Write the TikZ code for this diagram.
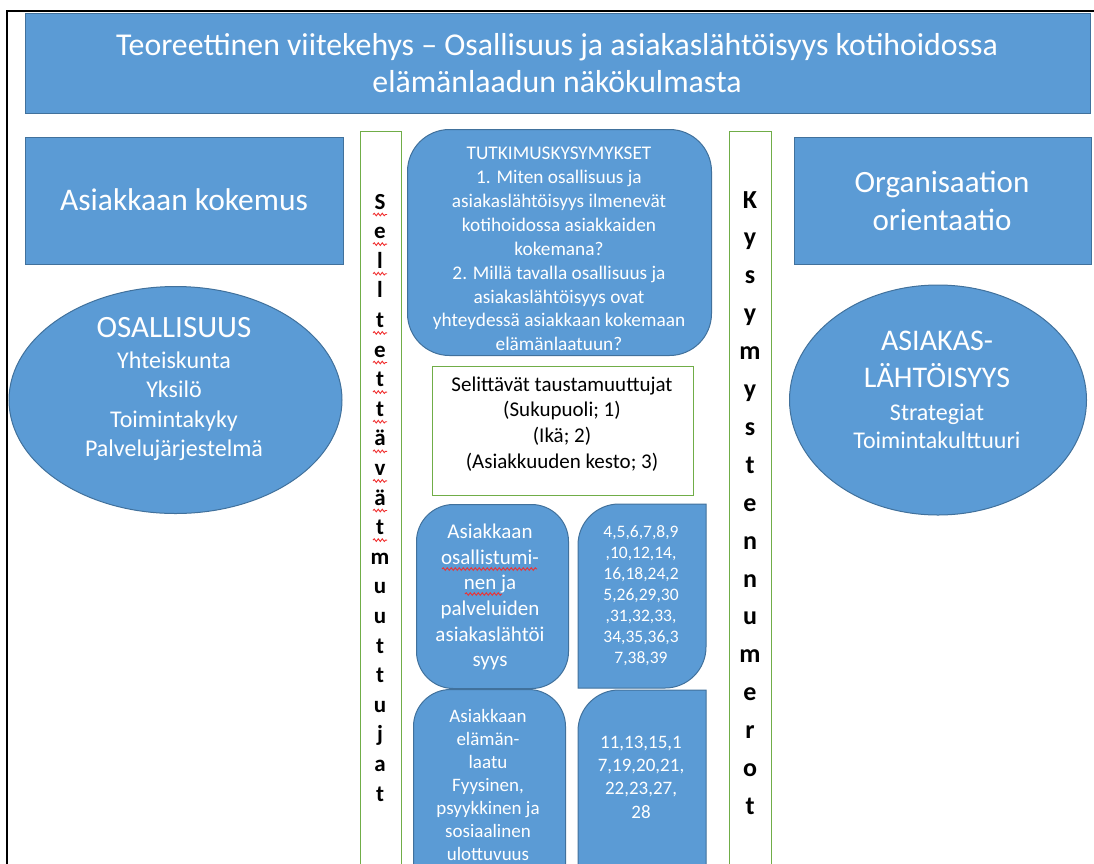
\documentclass[tikz,border=0pt]{standalone}
\usepackage{fontspec}
\setmainfont{Carlito}
\usetikzlibrary{decorations.pathmorphing,shapes.geometric}
\definecolor{bfill}{HTML}{5B9BD5}
\definecolor{bline}{HTML}{41719C}
\definecolor{gline}{HTML}{70AD47}
\definecolor{squig}{HTML}{F03030}
\newcommand{\fs}[2]{\fontsize{#1}{#2}\selectfont}
\begin{document}
\begin{tikzpicture}[x=1pt,y=-1pt,
  bshape/.style={draw=bline,fill=bfill,line width=1pt},
  gshape/.style={draw=gline,line width=1.3pt},
  wtext/.style={text=white,align=center,inner sep=0pt},
  ktext/.style={text=black,align=center,inner sep=0pt},
  lcol/.style={text=black,inner sep=0pt,anchor=base,font=\bfseries\fs{23}{27}},
  rcol/.style={text=black,inner sep=0pt,anchor=base,font=\bfseries\fs{26}{30}},
  wavy/.style={draw=squig,line width=0.9pt,decorate,decoration={snake,segment length=4pt,amplitude=1.3pt}},
  frame/.style={draw=black,line width=2.6pt}]
\useasboundingbox (0,0) rectangle (1094,863);
\clip (0,0) rectangle (1094,863);
% outer frame
\coordinate (fb) at (7,870);
\coordinate (ftl) at (7,11);
\coordinate (fr) at (1100,11);
\draw[frame] (fb) -- (ftl) -- (fr);
% title
\node[bshape,minimum width=1065,minimum height=100,anchor=north west] (titlebox) at (25,13) {};
\node[wtext,font=\fs{31.8}{37}] (title) at (557,63.5) {Teoreettinen viitekehys – Osallisuus ja asiakaslähtöisyys kotihoidossa\\elämänlaadun näkökulmasta};
% left side
\node[bshape,minimum width=318,minimum height=127,anchor=north west] (kokbox) at (25,137) {};
\node[wtext,font=\fs{31.5}{36}] (kok) at (184,200) {Asiakkaan kokemus};
\node[bshape,ellipse,minimum width=333,minimum height=227] (osell) at (175.5,400) {};
\node[wtext,font=\fs{31}{36}] (osal) at (174,328) {OSALLISUUS};
\node[wtext,font=\fs{24}{29.5}] (osalsub) at (174,406) {Yhteiskunta\\Yksilö\\Toimintakyky\\Palvelujärjestelmä};
% right side
\node[bshape,minimum width=297,minimum height=127,anchor=north west] (orgbox) at (794,137) {};
\node[wtext,font=\fs{31}{38}] (org) at (942,201) {Organisaation\\orientaatio};
\node[bshape,ellipse,minimum width=297,minimum height=230] (asell) at (938,400) {};
\node[wtext,font=\fs{30}{37}] (asia) at (937,359) {ASIAKAS-\\LÄHTÖISYYS};
\node[wtext,font=\fs{24}{28}] (asiasub) at (937,426) {Strategiat\\Toimintakulttuuri};
% columns
\node[gshape,minimum width=41,minimum height=760,anchor=north west] (lcolbox) at (360,131) {};
\node[gshape,minimum width=42,minimum height=760,anchor=north west] (rcolbox) at (729,131) {};
\foreach \ch [count=\i from 0] in {S,e,l,l,t,e,t,t,ä,v,ä,t,m,u,u,t,t,u,j,a,t} {
  \node[lcol] (L\i) at (380,209+29.6*\i) {\ch};
}
\foreach \i in {0,1,2,4,5,6,7,8,9,10,11} {
  \draw[wavy] ([xshift=-7pt,yshift=-5.5pt]L\i.base) -- ([xshift=7pt,yshift=-5.5pt]L\i.base);
}
\foreach \ch [count=\i from 0] in {K,y,s,y,m,y,s,t,e,n,n,u,m,e,r,o,t} {
  \node[rcol] (R\i) at (750,208+37.9*\i) {\ch};
}
% research questions
\node[bshape,rounded corners=42,minimum width=304,minimum height=226,anchor=north west] (tutbox) at (407,129) {};
\node[wtext,font=\fs{19.3}{23.9}] (tut) at (559,249) {TUTKIMUSKYSYMYKSET\\1. Miten osallisuus ja\\asiakaslähtöisyys ilmenevät\\kotihoidossa asiakkaiden\\kokemana?\\2. Millä tavalla osallisuus ja\\asiakaslähtöisyys ovat\\yhteydessä asiakkaan kokemaan\\elämänlaatuun?};
% background variables
\node[gshape,minimum width=261,minimum height=129,anchor=north west] (selbox) at (432,366) {};
\node[ktext,font=\fs{21}{25.7}] (sel) at (562,424) {Selittävät taustamuuttujat\\(Sukupuoli; 1)\\(Ikä; 2)\\(Asiakkuuden kesto; 3)};
% participation box
\node[bshape,rounded corners=37,minimum width=152,minimum height=184,anchor=north west] (osbox) at (416,504) {};
\node[wtext,font=\fs{21}{25.6}] (os) at (490,597) {Asiakkaan\\osallistumi-\\nen ja\\palveluiden\\asiakaslähtöi\\syys};
\coordinate (sq1a) at (442,569); \coordinate (sq1b) at (537,569);
\coordinate (sq2a) at (465,594); \coordinate (sq2b) at (502,594);
\draw[wavy] (sq1a) -- (sq1b);
\draw[wavy] (sq2a) -- (sq2b);
% numbers 1
\path[bshape] (578,688) -- (578,545) arc(180:270:41) -- (706,504) -- (706,647) arc(0:90:41) -- cycle;
\node[inner sep=0pt,minimum width=128,minimum height=184,anchor=north west] (num1box) at (578,504) {};
\node[wtext,font=\fs{17.5}{21}] (num1) at (641,596) {4,5,6,7,8,9\\,10,12,14,\\16,18,24,2\\5,26,29,30\\,31,32,33,\\34,35,36,3\\7,38,39};
% quality of life box
\node[bshape,rounded corners=37,minimum width=152,minimum height=230,anchor=north west] (elbox) at (413,689) {};
\node[wtext,font=\fs{19}{23}] (el) at (488,785) {Asiakkaan\\elämän-\\laatu\\Fyysinen,\\psyykkinen ja\\sosiaalinen\\ulottuvuus};
% numbers 2
\path[bshape] (578,900) -- (578,731) arc(180:270:41) -- (706,690) -- (706,900) -- cycle;
\node[inner sep=0pt,minimum width=128,minimum height=180,anchor=north west] (num2box) at (578,690) {};
\node[wtext,font=\fs{19}{23.3}] (num2) at (641,777) {11,13,15,1\\7,19,20,21,\\22,23,27,\\28};
\end{tikzpicture}
\end{document}
